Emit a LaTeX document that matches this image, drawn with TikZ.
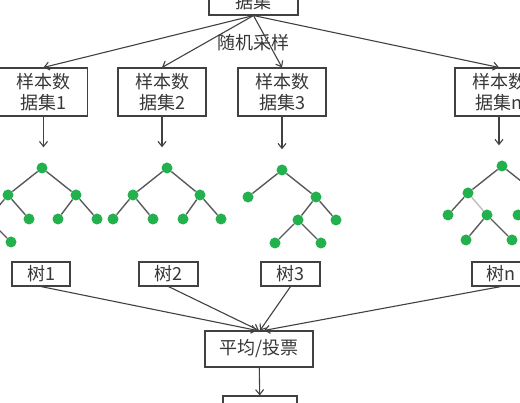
\documentclass[tikz,border=0pt]{standalone}
\usepackage{fontspec}
\setmainfont{Noto Sans CJK SC}
\usepackage{tikz}
\usetikzlibrary{arrows.meta}
\tikzset{>={Straight Barb[length=5pt,width=8pt]}}
\definecolor{leafgreen}{RGB}{34,177,76}
\definecolor{boxgray}{RGB}{65,65,65}
\definecolor{branchgray}{RGB}{90,90,90}
\definecolor{txtgray}{RGB}{55,55,55}
\tikzset{
  box/.style={draw=boxgray, line width=1.1pt, text=txtgray, align=center, inner sep=1pt,
    font=\fontsize{18}{21}\selectfont},
  leaf/.style={circle, fill=leafgreen, inner sep=0pt, minimum size=11pt},
  branch/.style={draw=branchgray, line width=1.4pt},
  arr/.style={draw=boxgray, line width=1.1pt, ->},
}

\begin{document}
\begin{tikzpicture}[x=1pt, y=-1pt]
    \useasboundingbox (0,0) rectangle (520,403);
    \clip (0,0) rectangle (520,403);

    % data sets
    \node[box, minimum width=89pt, minimum height=48pt] (data) at (253.5,-9) {\strut\\据集};
    \node[box, minimum width=88pt, minimum height=48pt] (s1) at (43.5,92) {样本数\\据集1};
    \node[box, minimum width=88pt, minimum height=48pt] (s2) at (162,92) {样本数\\据集2};
    \node[box, minimum width=88pt, minimum height=48pt] (s3) at (282,92) {样本数\\据集3};
    \node[box, minimum width=88pt, minimum height=48pt] (sn) at (499,92) {样本数\\据集n};
    \node[text=txtgray, font=\fontsize{18}{21}\selectfont] (rand) at (253,43) {随机采样};

    \draw[arr] (data.south) -- (s1.north);
    \draw[arr] (data.south) -- (s2.north);
    \draw[arr] (data.south) -- (s3.north);
    \draw[arr] (data.south) -- (sn.north);

    % tree 1
    \node[leaf] (a0) at (42,168) {};
    \node[leaf] (a1) at (8,195) {};   \node[leaf] (a2) at (76,195) {};
    \node[leaf] (a3) at (-12,219) {}; \node[leaf] (a4) at (29,219) {};
    \node[leaf] (a5) at (58,219) {};  \node[leaf] (a6) at (97,219) {};
    \node[leaf] (a7) at (11,242) {};
    \draw[branch] (a0) -- (a1) (a0) -- (a2) (a1) -- (a3) (a1) -- (a4)
        (a2) -- (a5) (a2) -- (a6) (a3) -- (a7);

    % tree 2
    \node[leaf] (b0) at (167,168) {};
    \node[leaf] (b1) at (133,195) {}; \node[leaf] (b2) at (200,195) {};
    \node[leaf] (b3) at (113,219) {}; \node[leaf] (b4) at (153,219) {};
    \node[leaf] (b5) at (183,219) {}; \node[leaf] (b6) at (221,219) {};
    \draw[branch] (b0) -- (b1) (b0) -- (b2) (b1) -- (b3) (b1) -- (b4)
        (b2) -- (b5) (b2) -- (b6);

    % tree 3
    \node[leaf] (c0) at (282,170) {};
    \node[leaf] (c1) at (248,197) {}; \node[leaf] (c2) at (316,197) {};
    \node[leaf] (c3) at (298,220) {}; \node[leaf] (c4) at (336,220) {};
    \node[leaf] (c5) at (275,243) {}; \node[leaf] (c6) at (321,243) {};
    \draw[branch] (c0) -- (c1) (c0) -- (c2) (c2) -- (c3) (c2) -- (c4)
        (c3) -- (c5) (c3) -- (c6);

    % tree n
    \node[leaf] (d0) at (502,166) {};
    \node[leaf] (d1) at (468,193) {}; \node[leaf] (d2) at (536,193) {};
    \node[leaf] (d3) at (448,215) {}; \node[leaf] (d4) at (487,215) {};
    \node[leaf] (d5) at (518,215) {};
    \node[leaf] (d6) at (466,240) {}; \node[leaf] (d7) at (512,240) {};
    \draw[branch] (d0) -- (d1) (d0) -- (d2) (d1) -- (d3)
        (d2) -- (d5) (d4) -- (d6) (d4) -- (d7);
    \draw[branch, draw=branchgray!40] (d1) -- (d4);

    \draw[arr, shorten >=15pt] (s1.south) -- (s1.south |- a0.north);
    \draw[arr, shorten >=15pt] (s2.south) -- (s2.south |- b0.north);
    \draw[arr, shorten >=15pt] (s3.south) -- (s3.south |- c0.north);
    \draw[arr, shorten >=15pt] (sn.south) -- (sn.south |- d0.north);

    % trees and vote
    \node[box, minimum width=58pt, minimum height=24pt] (t1) at (41,274) {树1};
    \node[box, minimum width=59pt, minimum height=24pt] (t2) at (168.5,274) {树2};
    \node[box, minimum width=59pt, minimum height=24pt] (t3) at (290.5,274) {树3};
    \node[box, minimum width=58pt, minimum height=24pt] (tn) at (501,274) {树n};

    \node[box, minimum width=108pt, minimum height=36pt] (vote) at (259,349) {平均/投票};
    \node[box, minimum width=74pt, minimum height=36pt] (out) at (260,414) {};

    \draw[arr] (t1.south) -- ([xshift=-2pt]vote.north);
    \draw[arr] (t2.south) -- (vote.north);
    \draw[arr] (t3.south) -- ([xshift=1pt]vote.north);
    \draw[arr] (tn.south) -- ([xshift=5pt]vote.north);
    \draw[arr] (vote) -- (out);
\end{tikzpicture}
\end{document}
